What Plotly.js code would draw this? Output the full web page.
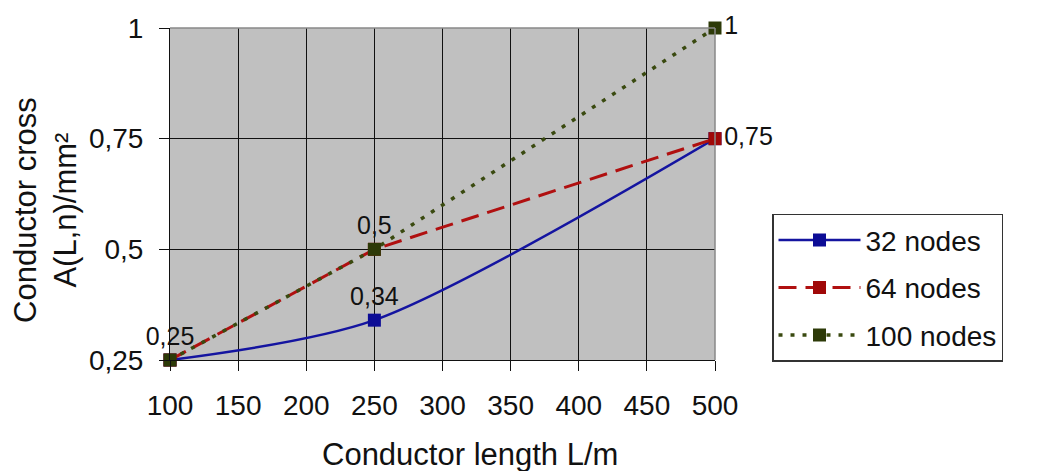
<!DOCTYPE html>
<html><head><meta charset="utf-8">
<script src="https://cdn.plot.ly/plotly-3.0.1.min.js"></script>
<style>body{margin:0;background:#fff}#c{width:1041px;height:471px}</style>
</head><body><div id="c"></div>
<script>
const lengths = [100, 250, 500];
const nodes32 = [0.25, 0.34, 0.75];
const nodes64 = [0.25, 0.5, 0.75];
const nodes100 = [0.25, 0.5, 1];
const labels32 = ['', '0,34', ''];
const labels64 = ['', '', '0,75'];
const labels100 = ['0,25', '0,5', '1'];
const pos32 = ['top center', 'top center', 'middle right'];
const pos64 = ['top center', 'top center', 'middle right'];
const pos100 = ['top center', 'top center', 'middle right'];
const xTicks = [100, 150, 200, 250, 300, 350, 400, 450, 500];
const yTicks = [0.25, 0.5, 0.75, 1];

const FONT = 'Liberation Sans, Arial, sans-serif';
const tfont = {family: FONT, size: 25, color: '#111'};

const traces = [
  {x: lengths, y: nodes32, name: '32 nodes', mode: 'lines+markers+text', text: labels32, textposition: pos32,
   textfont: tfont, line: {color: '#1414a0', width: 2.5, shape: 'spline', smoothing: 0.8},
   marker: {symbol: 'square', size: 13, color: '#0c0c96'}, legendgroup: 'a', cliponaxis: false},
  {x: lengths, y: nodes64, name: '64 nodes', mode: 'lines+markers+text', text: labels64, textposition: pos64,
   textfont: tfont, line: {color: '#b01010', width: 3, dash: '18px,9px'},
   marker: {symbol: 'square', size: 13, color: '#a00808'}, legendgroup: 'b', cliponaxis: false},
  {x: lengths, y: nodes100, name: '100 nodes', mode: 'lines+markers+text', text: labels100, textposition: pos100,
   textfont: tfont, line: {color: '#3a4a10', width: 3.5, dash: '4px,8px'},
   marker: {symbol: 'square', size: 13, color: '#2d3a08'}, legendgroup: 'c', cliponaxis: false}
];

const layout = {
  width: 1041, height: 471,
  margin: {l: 170, r: 326, t: 28, b: 111},
  paper_bgcolor: '#fff', plot_bgcolor: '#c0c0c0',
  separators: ', ',
  font: {family: FONT, size: 28, color: '#111'},
  showlegend: true,
  legend: {x: 1.1046, y: 0.44, xanchor: 'left', yanchor: 'top', bordercolor: '#333', borderwidth: 1.5,
           bgcolor: '#fff', font: {family: FONT, size: 28, color: '#111'}, traceorder: 'grouped',
           tracegroupgap: 8, itemwidth: 82},
  xaxis: {range: [100, 500], tickvals: xTicks, ticks: 'outside', ticklen: 10, tickcolor: '#111',
          gridcolor: '#111', gridwidth: 1, showline: true, linecolor: '#111', zeroline: false,
          ticklabelstandoff: 10, tickfont: {size: 28}},
  yaxis: {range: [0.25, 1], tickvals: yTicks, ticks: 'outside', ticklen: 10, tickcolor: '#111',
          gridcolor: '#111', gridwidth: 1, showline: true, linecolor: '#111', zeroline: false,
          ticklabelstandoff: 10, tickfont: {size: 28}},
  shapes: [
    {type: 'line', xref: 'paper', yref: 'paper', x0: 1, x1: 1, y0: 0, y1: 1, line: {color: '#888', width: 1.5}},
    {type: 'line', xref: 'paper', yref: 'paper', x0: 0, x1: 1, y0: 1, y1: 1, line: {color: '#888', width: 1.5}}
  ],
  annotations: [
    {text: 'Conductor length L/m', xref: 'paper', yref: 'paper', x: 0.55, y: -0.286, showarrow: false,
     xanchor: 'center', yanchor: 'middle', font: {size: 31}},
    {text: 'Conductor cross<br>A(L,n)/mm²', xref: 'paper', yref: 'paper', x: -0.2275, y: 0.452, showarrow: false,
     textangle: -90, xanchor: 'center', yanchor: 'middle', font: {size: 31}}
  ]
};
Plotly.newPlot('c', traces, layout, {displayModeBar: false});
</script></body></html>
